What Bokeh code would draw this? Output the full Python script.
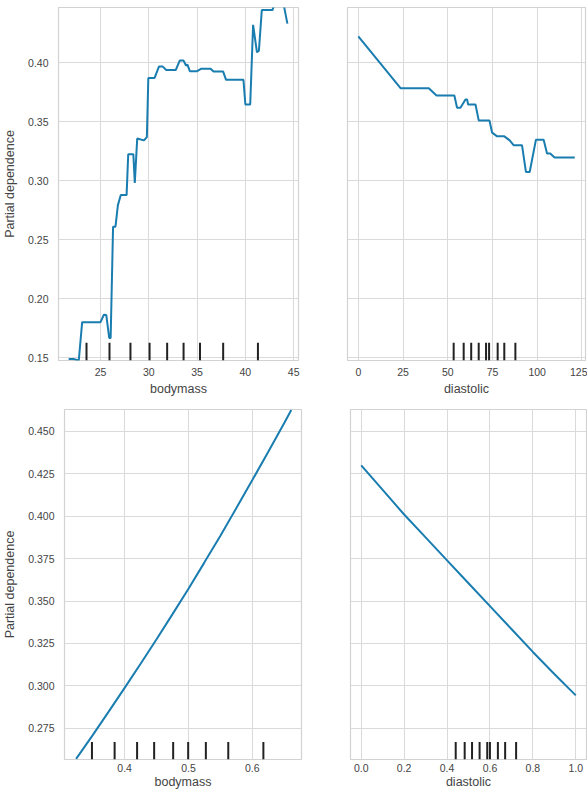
from bokeh.plotting import figure
from bokeh.layouts import row, column
from bokeh.models import FixedTicker, NumeralTickFormatter, Range1d
from bokeh.embed import file_html
from bokeh.resources import INLINE

# ---------------- data ----------------
# Row 1: raw features
bm_x = [21.7, 22.2, 22.75, 23.1, 25.0, 25.35, 25.6, 25.9, 26.05, 26.3, 26.55, 26.8, 27.1, 27.7,
        27.87, 28.4, 28.55, 28.8, 29.5, 29.8, 29.95, 30.6, 31.05, 31.45, 31.8, 32.8, 33.2, 33.6,
        33.85, 34.0, 34.25, 35.0, 35.4, 36.4, 36.7, 37.7, 38.0, 39.8, 40.0, 40.5, 40.8, 41.2,
        41.4, 41.7, 42.8, 43.1, 43.9, 44.35]
bm_pd = [0.1488, 0.1488, 0.1475, 0.180, 0.180, 0.1863, 0.186, 0.1666, 0.1666, 0.2609, 0.2609,
         0.2792, 0.2877, 0.2877, 0.3223, 0.3223, 0.298, 0.3356, 0.3341, 0.3369, 0.387, 0.387,
         0.3966, 0.3966, 0.3938, 0.3938, 0.4017, 0.4017, 0.3975, 0.3983, 0.3927, 0.3927, 0.3947,
         0.3947, 0.3924, 0.3924, 0.3854, 0.3854, 0.3645, 0.3645, 0.432, 0.4087, 0.410, 0.4445,
         0.4445, 0.452, 0.452, 0.433]
bm_deciles = [23.55, 25.93, 28.1, 30.08, 31.9, 33.6, 35.3, 37.7, 41.3]

di_x = [0, 23.6, 39.4, 43.7, 53.7, 55.2, 57.1, 59.9, 60.8, 61.4, 65.5, 67.3, 73.3, 74.8, 77.6,
        81.6, 84.6, 86.8, 91.5, 93.7, 95.8, 99.3, 103.6, 105.5, 107.3, 109.7, 121.0]
di_pd = [0.4222, 0.3783, 0.3783, 0.3721, 0.3721, 0.3617, 0.3617, 0.3688, 0.3688, 0.3645, 0.3645,
         0.351, 0.351, 0.3406, 0.3375, 0.3375, 0.3341, 0.330, 0.330, 0.3073, 0.3073, 0.3347,
         0.3347, 0.3229, 0.3229, 0.3195, 0.3195]
di_deciles = [53.3, 58.9, 63.1, 67.3, 71.4, 73.1, 77.9, 81.6, 87.8]

# Row 2: scaled features
bms_x = [0.324, 0.35, 0.375, 0.40, 0.425, 0.45, 0.475, 0.50, 0.525, 0.55, 0.575, 0.60,
         0.625, 0.65, 0.661]
bms_pd = [0.257, 0.2710, 0.2848, 0.2988, 0.3130, 0.3275, 0.3423, 0.3573, 0.3728, 0.3885,
          0.4048, 0.4213, 0.4380, 0.4550, 0.4626]
bms_deciles = [0.3488, 0.3843, 0.4195, 0.4462, 0.476, 0.4995, 0.5272, 0.5623, 0.6173]

dis_x = [0.0, 0.1, 0.2, 0.3, 0.4, 0.5, 0.6, 0.7, 0.8, 0.9, 1.0]
dis_pd = [0.430, 0.4155, 0.401, 0.3875, 0.374, 0.3605, 0.347, 0.3335, 0.320, 0.307, 0.2944]
dis_deciles = [0.4404, 0.4822, 0.5165, 0.5517, 0.5874, 0.5999, 0.637, 0.6708, 0.7219]

# ticks
row1_yticks = [0.15, 0.20, 0.25, 0.30, 0.35, 0.40]
row2_yticks = [0.275, 0.300, 0.325, 0.350, 0.375, 0.400, 0.425, 0.450]
bm_xticks = [25, 30, 35, 40, 45]
di_xticks = [0, 25, 50, 75, 100, 125]
bms_xticks = [0.4, 0.5, 0.6]
dis_xticks = [0.0, 0.2, 0.4, 0.6, 0.8, 1.0]

ylabel = "Partial dependence"

# ---------------- style ----------------
LINE = "#1a7db0"
TEXT = "#444444"
GRID = "#dadada"
FONT = "Liberation Sans"


def panel(x, y, deciles, xr, yr, xticks, yticks, xfmt, yfmt, xlabel, show_y,
          fw, fh, bl, br, bt, bb, xstand=(7, 3), ystandoff=10):
    p = figure(frame_width=fw, frame_height=fh, min_border_left=bl, min_border_right=br,
               min_border_top=bt, min_border_bottom=bb,
               x_range=Range1d(*xr), y_range=Range1d(*yr),
               output_backend="svg", toolbar_location=None)
    p.outline_line_color = "#d2d2d2"
    p.outline_line_width = 1.2
    p.background_fill_color = "white"
    p.border_fill_color = "white"

    p.xaxis.ticker = FixedTicker(ticks=xticks)
    p.yaxis.ticker = FixedTicker(ticks=yticks)
    p.xgrid.ticker = FixedTicker(ticks=xticks)
    p.ygrid.ticker = FixedTicker(ticks=yticks)
    p.xaxis.formatter = NumeralTickFormatter(format=xfmt)
    p.yaxis.formatter = NumeralTickFormatter(format=yfmt)
    for g in (p.xgrid, p.ygrid):
        g.grid_line_color = GRID
        g.grid_line_width = 1

    for ax in (p.xaxis, p.yaxis):
        ax.axis_line_color = None
        ax.major_tick_line_color = None
        ax.minor_tick_line_color = None
        ax.major_tick_out = 0
        ax.major_tick_in = 0
        ax.minor_tick_out = 0
        ax.minor_tick_in = 0
        ax.major_label_text_font = FONT
        ax.major_label_text_font_size = "10.5px"
        ax.major_label_text_color = TEXT
        ax.axis_label_text_font = FONT
        ax.axis_label_text_font_size = "12.5px"
        ax.axis_label_text_font_style = "normal"
        ax.axis_label_text_color = TEXT

    p.xaxis.axis_label = xlabel
    p.xaxis.major_label_standoff = xstand[0]
    p.xaxis.axis_label_standoff = xstand[1]
    if show_y:
        p.yaxis.axis_label = ylabel
        p.yaxis.major_label_standoff = ystandoff
        p.yaxis.axis_label_standoff = 8
    else:
        p.yaxis.visible = False

    p.line(x, y, line_color=LINE, line_width=2)
    y0 = yr[0]
    y1 = yr[0] + 0.05 * (yr[1] - yr[0])
    p.segment(x0=deciles, x1=deciles, y0=[y0] * len(deciles), y1=[y1] * len(deciles),
              line_color="#222222", line_width=2)
    return p


row1_yr = (0.1475, 0.4467)
row2_yr = (0.2566, 0.4629)

p1 = panel(bm_x, bm_pd, bm_deciles, (20.65, 45.5), row1_yr, bm_xticks, row1_yticks,
           "0", "0.00", "bodymass", True, 240, 353, 58, 24, 7, 35)
p2 = panel(di_x, di_pd, di_deciles, (-6.05, 127.0), row1_yr, di_xticks, row1_yticks,
           "0", "0.00", "diastolic", False, 238, 353, 25, 2, 7, 35)
p3 = panel(bms_x, bms_pd, bms_deciles, (0.3058, 0.677), row2_yr, bms_xticks, row2_yticks,
           "0.0", "0.000", "bodymass", True, 237, 350, 63, 22, 11, 32, xstand=(4, 0))
p4 = panel(dis_x, dis_pd, dis_deciles, (-0.05, 1.05), row2_yr, dis_xticks, row2_yticks,
           "0.0", "0.000", "diastolic", False, 236, 350, 27, 2, 11, 32, xstand=(4, 0))

layout = column(row(p1, p2), row(p3, p4))

open("out.html", "w").write(file_html(layout, INLINE))
